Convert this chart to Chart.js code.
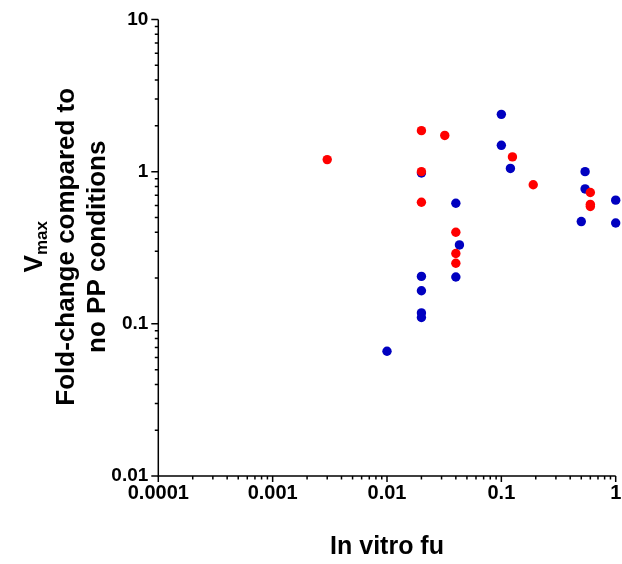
<!DOCTYPE html>
<html>
<head>
<meta charset="utf-8">
<script src="https://cdn.jsdelivr.net/npm/chart.js@4"></script>
<style>
  html, body { margin: 0; padding: 0; background: #fff; }
  #chart { display: block; }
</style>
</head>
<body>
<canvas id="chart" width="622" height="564"></canvas>
<script>
// in vitro fu vs Vmax fold-change, two groups
const redFu = [0.003, 0.02, 0.032, 0.02, 0.02, 0.04, 0.04, 0.04, 0.125, 0.19, 0.6, 0.6, 0.6];
const redVmax = [1.2, 1.86, 1.73, 1.0, 0.63, 0.40, 0.29, 0.25, 1.25, 0.82, 0.73, 0.61, 0.59];
const blueFu = [0.02, 0.04, 0.043, 0.02, 0.04, 0.02, 0.02, 0.02, 0.01, 0.1, 0.1, 0.12, 0.54, 0.54, 1.0, 0.5, 1.0];
const blueVmax = [0.98, 0.62, 0.33, 0.205, 0.203, 0.165, 0.118, 0.11, 0.066, 2.38, 1.49, 1.05, 1.0, 0.77, 0.65, 0.47, 0.46];

const xTickLabels = ["0.0001", "0.001", "0.01", "0.1", "1"];
const yTickLabels = ["0.01", "0.1", "1", "10"];

const FONT = "'Liberation Sans', Arial, sans-serif";

function toPoints(xs, ys) {
  return xs.map((x, i) => ({ x: x, y: ys[i] }));
}

function isDecade(v) {
  const l = Math.log10(v);
  return Math.abs(l - Math.round(l)) < 1e-6;
}

// draws axis lines, major/minor ticks and the axis titles
const axesPlugin = {
  id: "axesPlugin",
  afterDraw(chart) {
    const ctx = chart.ctx;
    const xs = chart.scales.x;
    const ys = chart.scales.y;
    const area = chart.chartArea;
    ctx.save();
    ctx.strokeStyle = "#000";
    ctx.lineWidth = 1.5;
    ctx.beginPath();
    ctx.moveTo(area.left, area.top);
    ctx.lineTo(area.left, area.bottom);
    ctx.lineTo(area.right, area.bottom);
    ctx.stroke();

    ctx.beginPath();
    for (let d = xs.min; d <= xs.max * 1.0001; d *= 10) {
      for (let k = 1; k <= 9; k++) {
        const v = d * k;
        if (v > xs.max * 1.0001) break;
        const px = xs.getPixelForValue(v);
        const len = k === 1 ? 6 : 3.5;
        ctx.moveTo(px, area.bottom);
        ctx.lineTo(px, area.bottom + len);
      }
    }
    for (let d = ys.min; d <= ys.max * 1.0001; d *= 10) {
      for (let k = 1; k <= 9; k++) {
        const v = d * k;
        if (v > ys.max * 1.0001) break;
        const py = ys.getPixelForValue(v);
        const len = k === 1 ? 7 : 3.5;
        ctx.moveTo(area.left, py);
        ctx.lineTo(area.left - len, py);
      }
    }
    ctx.stroke();

    // x title
    ctx.fillStyle = "#000";
    ctx.textAlign = "center";
    ctx.textBaseline = "alphabetic";
    ctx.font = "bold 25px " + FONT;
    ctx.fillText("In vitro fu", (area.left + area.right) / 2, 554);

    // y title, rotated
    const cy = (area.top + area.bottom) / 2 - 1;
    ctx.translate(0, cy);
    ctx.rotate(-Math.PI / 2);
    ctx.font = "bold 26px " + FONT;
    const wV = ctx.measureText("V").width;
    ctx.font = "bold 17px " + FONT;
    const wSub = ctx.measureText("max").width;
    const start = -(wV + wSub) / 2;
    ctx.textAlign = "left";
    ctx.font = "bold 26px " + FONT;
    ctx.fillText("V", start, 42);
    ctx.font = "bold 17px " + FONT;
    ctx.fillText("max", start + wV, 47);
    ctx.textAlign = "center";
    ctx.font = "bold 26px " + FONT;
    ctx.fillText("Fold-change compared to", 0, 74);
    ctx.fillText("no PP conditions", 0, 105);
    ctx.restore();
  }
};

const chart = new Chart(document.getElementById("chart"), {
  type: "scatter",
  data: {
    datasets: [
      {
        label: "red",
        data: toPoints(redFu, redVmax),
        backgroundColor: "#FF0000",
        borderColor: "#FF0000",
        pointRadius: 4.7,
        pointBorderWidth: 0,
        clip: false
      },
      {
        label: "blue",
        data: toPoints(blueFu, blueVmax),
        backgroundColor: "#0000C0",
        borderColor: "#0000C0",
        pointRadius: 4.7,
        pointBorderWidth: 0,
        clip: false
      }
    ]
  },
  options: {
    responsive: false,
    devicePixelRatio: 1,
    animation: false,
    layout: { padding: { left: 0, top: 19.5, right: 6.3, bottom: 0 } },
    plugins: {
      legend: { display: false },
      tooltip: { enabled: false }
    },
    scales: {
      x: {
        type: "logarithmic",
        min: 0.0001,
        max: 1,
        grid: { display: false, drawTicks: false },
        border: { display: false },
        afterFit: s => { s.height = 88; s.paddingLeft = 0; s.paddingRight = 0; },
        ticks: {
          autoSkip: false,
          maxRotation: 0,
          padding: 5,
          color: "#000",
          font: { family: FONT, size: 20, weight: "bold" },
          callback: v => isDecade(v) ? xTickLabels[Math.round(Math.log10(v)) + 4] : ""
        }
      },
      y: {
        type: "logarithmic",
        min: 0.01,
        max: 10,
        grid: { display: false, drawTicks: false },
        border: { display: false },
        afterFit: s => { s.width = 158.3; s.paddingTop = 0; s.paddingBottom = 0; },
        ticks: {
          autoSkip: false,
          padding: 10,
          color: "#000",
          font: { family: FONT, size: 19, weight: "bold" },
          callback: v => isDecade(v) ? yTickLabels[Math.round(Math.log10(v)) + 2] : ""
        }
      }
    }
  },
  plugins: [axesPlugin]
});
</script>
</body>
</html>
